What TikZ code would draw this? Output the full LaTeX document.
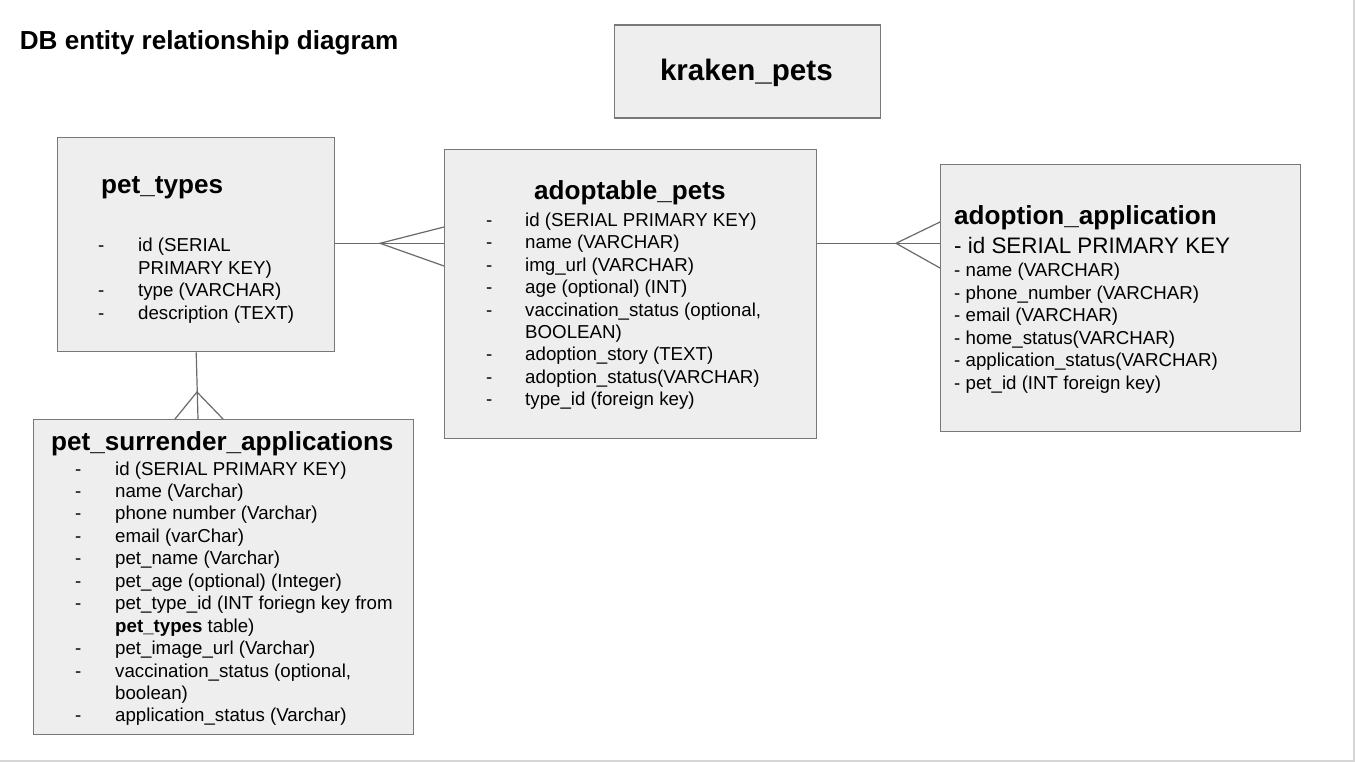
\documentclass[tikz,border=0pt]{standalone}
\usepackage{fontspec}
\setmainfont{Liberation Sans}
\definecolor{boxfill}{HTML}{EEEEEE}
\definecolor{boxline}{HTML}{787878}
\definecolor{connline}{HTML}{6A6A6A}
\definecolor{framegray}{HTML}{D6D6D6}
\begin{document}
\begin{tikzpicture}[x=1pt,y=-1pt,
  box/.style={draw=boxline, fill=boxfill, line width=1.4pt, inner sep=0pt, anchor=north west},
  conn/.style={draw=connline, line width=1.2pt},
  body/.style={anchor=base west, inner sep=0pt, font=\fontsize{18.7}{22.4}\selectfont},
  bigbody/.style={anchor=base west, inner sep=0pt, font=\fontsize{22.4}{26}\selectfont},
  ttl/.style={anchor=base west, inner sep=0pt, font=\bfseries\fontsize{26.1}{30}\selectfont}]
\useasboundingbox (0,0) rectangle (1355,762);
\fill[white] (0,0) rectangle (1355,762);
\draw[framegray, line width=2pt] (1354,0) -- (1354,761) -- (0,761);

% heading
\node[ttl] (heading) at (19.7,49.3) {DB entity relationship diagram};

% boxes
\node[box, minimum width=266pt, minimum height=93pt] (kp) at (613.5,24.5) {};
\node[anchor=base, inner sep=0pt, font=\bfseries\fontsize{29.6}{34}\selectfont] (kptitle) at (746.4,81) {kraken\_pets};

\node[box, minimum width=277pt, minimum height=214pt] (pt) at (57,137) {};
\node[box, minimum width=372pt, minimum height=289pt] (ap) at (444,149) {};
\node[box, minimum width=360pt, minimum height=267pt] (aa) at (940,164) {};
\node[box, minimum width=380pt, minimum height=315pt] (psa) at (33,419) {};

% pet_types
\node[ttl] (pttitle) at (101,194) {pet\_types};
\foreach [count=\i] \y in {251.7,296.7,319} \node[body] (ptd\i) at (98,\y) {-};
\foreach [count=\i] \y/\t in {251.7/{id (SERIAL},274/{PRIMARY KEY)},296.7/{type (VARCHAR)},319/{description (TEXT)}}
  \node[body] (ptt\i) at (138,\y) {\t};

% adoptable_pets
\node[ttl] (aptitle) at (534,200) {adoptable\_pets};
\foreach [count=\i] \y in {226.5,248.9,271.3,293.7,316.1,360.9,383.3,405.7} \node[body] (apd\i) at (486,\y) {-};
\foreach [count=\i] \y/\t in {226.5/{id (SERIAL PRIMARY KEY)},248.9/{name (VARCHAR)},271.3/{img\_url (VARCHAR)},293.7/{age (optional) (INT)},316.1/{vaccination\_status (optional,},338.5/{BOOLEAN)},360.9/{adoption\_story (TEXT)},383.3/{adoption\_status(VARCHAR)},405.7/{type\_id (foreign key)}}
  \node[body] (apt\i) at (525,\y) {\t};

% adoption_application
\node[ttl] (aatitle) at (954,225) {adoption\_application};
\node[bigbody] (aaid) at (954,253.3) {- id SERIAL PRIMARY KEY};
\foreach [count=\i] \y/\t in {276.7/{- name (VARCHAR)},299/{- phone\_number (VARCHAR)},321.7/{- email (VARCHAR)},344.3/{- home\_status(VARCHAR)},366.7/{- application\_status(VARCHAR)},389.3/{- pet\_id (INT foreign key)}}
  \node[body] (aat\i) at (954,\y) {\t};

% pet_surrender_applications
\node[ttl] (psatitle) at (51,450.7) {pet\_surrender\_applications};
\foreach [count=\i] \y in {475,497.4,519.9,542.3,564.8,587.2,609.7,654.6,677,721.9} \node[body] (psad\i) at (75,\y) {-};
\foreach [count=\i] \y/\t in {475/{id (SERIAL PRIMARY KEY)},497.4/{name (Varchar)},519.9/{phone number (Varchar)},542.3/{email (varChar)},564.8/{pet\_name (Varchar)},587.2/{pet\_age (optional) (Integer)},609.7/{pet\_type\_id (INT foriegn key from},632.1/{\textbf{pet\_types} table)},654.6/{pet\_image\_url (Varchar)},677/{vaccination\_status (optional,},699.5/{boolean)},721.9/{application\_status (Varchar)}}
  \node[body] (psat\i) at (115,\y) {\t};

% connectors
\coordinate (c1) at (380,243.3);
\draw[conn] (pt.east |- c1) -- (ap.west |- c1);
\draw[conn] ([yshift=-78pt]ap.north west) -- (c1) -- ([yshift=-117pt]ap.north west);

\coordinate (c2) at (896,243.3);
\draw[conn] (ap.east |- c2) -- (aa.west |- c2);
\draw[conn] ([yshift=-58pt]aa.north west) -- (c2) -- ([yshift=-104pt]aa.north west);

\coordinate (c3) at (197,392);
\draw[conn] (pt.south) -- ([xshift=165pt]psa.north west);
\draw[conn] ([xshift=142pt]psa.north west) -- (c3) -- ([xshift=190pt]psa.north west);
\end{tikzpicture}
\end{document}
